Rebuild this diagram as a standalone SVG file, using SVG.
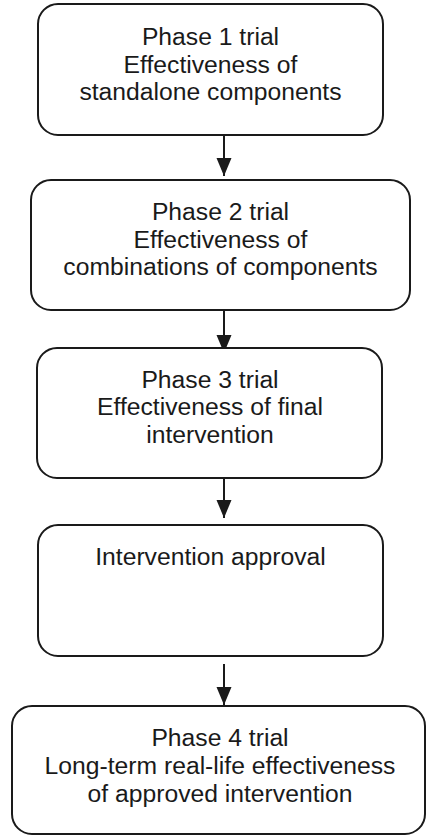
<svg xmlns="http://www.w3.org/2000/svg" width="427" height="836" viewBox="0 0 427 836">
<style>
.box{fill:#fff;stroke:#1a1a1a;stroke-width:2}
.t{font-family:"Liberation Sans",Arial,sans-serif;font-size:24.7px;fill:#1a1a1a;text-anchor:middle}
.c{stroke:#1a1a1a;stroke-width:2;fill:none}
</style>
<defs>
<marker id="ah" markerUnits="userSpaceOnUse" markerWidth="19" markerHeight="16" refX="18" refY="7.5" orient="auto">
<path d="M0,0 L18,7.5 L0,15 Z" fill="#1a1a1a"/>
</marker>
</defs>
<rect width="427" height="836" fill="#fff"/>
<g id="connectors">
<line class="c" x1="224" y1="135" x2="224" y2="176" marker-end="url(#ah)"/>
<line class="c" x1="224" y1="310" x2="224" y2="353" marker-end="url(#ah)"/>
<line class="c" x1="224" y1="478" x2="224" y2="518" marker-end="url(#ah)"/>
<line class="c" x1="224" y1="664" x2="224" y2="705" marker-end="url(#ah)"/>
</g>
<g id="n1">
<rect class="box" x="38" y="4" width="345" height="131" rx="20"/>
<text class="t" x="210.5" y="45">Phase 1 trial</text>
<text class="t" x="210.5" y="72.5">Effectiveness of</text>
<text class="t" x="210.5" y="100">standalone components</text>
</g>
<g id="n2">
<rect class="box" x="31" y="180" width="379" height="130" rx="20"/>
<text class="t" x="220.5" y="220">Phase 2 trial</text>
<text class="t" x="220.5" y="247.5">Effectiveness of</text>
<text class="t" x="220.5" y="275">combinations of components</text>
</g>
<g id="n3">
<rect class="box" x="37" y="348" width="345" height="130" rx="20"/>
<text class="t" x="210" y="387.5">Phase 3 trial</text>
<text class="t" x="210" y="415">Effectiveness of final</text>
<text class="t" x="210" y="443">intervention</text>
</g>
<g id="n4">
<rect class="box" x="38" y="525" width="345" height="131" rx="20"/>
<text class="t" x="210.5" y="565">Intervention approval</text>
</g>
<g id="n5">
<rect class="box" x="12" y="706" width="413" height="128" rx="20"/>
<text class="t" x="220" y="745.5">Phase 4 trial</text>
<text class="t" x="220" y="773.5">Long-term real-life effectiveness</text>
<text class="t" x="220" y="801.5">of approved intervention</text>
</g>
</svg>
